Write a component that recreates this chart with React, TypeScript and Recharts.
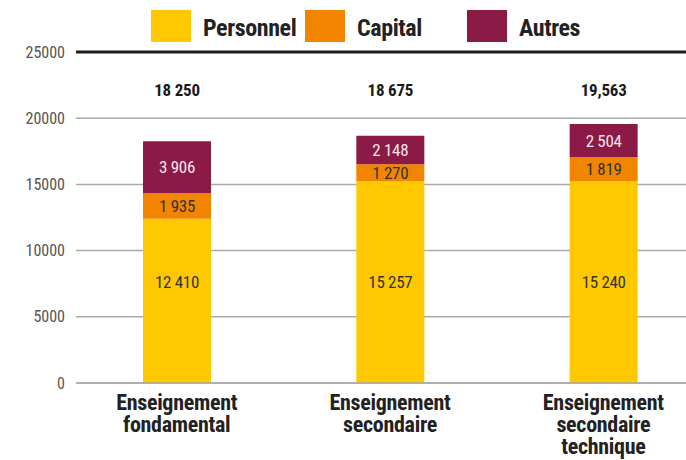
import React from 'react';
import { BarChart, Bar, XAxis, YAxis, CartesianGrid, ReferenceLine, LabelList } from 'recharts';

const categories = ['Enseignement fondamental', 'Enseignement secondaire', 'Enseignement secondaire technique'];
const personnel = [12410, 15257, 15240];
const capital = [1935, 1270, 1819];
const autres = [3906, 2148, 2504];
const totalLabels = ['18 250', '18 675', '19,563'];
const yTicks = [0, 5000, 10000, 15000, 20000, 25000];

const series = [
  { key: 'personnel', name: 'Personnel', color: '#FFC800' },
  { key: 'capital', name: 'Capital', color: '#F18500' },
  { key: 'autres', name: 'Autres', color: '#8B1A46' },
];

const FONT = "'Roboto Condensed', Roboto, sans-serif";

const data = categories.map((name, i) => ({
  name,
  personnel: personnel[i],
  capital: capital[i],
  autres: autres[i],
  total: totalLabels[i],
}));

const fmt = (v: number) => v.toString().replace(/\B(?=(\d{3})+(?!\d))/g, ' ');

const CategoryTick = (props: any) => {
  const { x, y, payload } = props;
  const words = String(payload.value).split(' ');
  return (
    <text x={x} y={y + 19} textAnchor="middle" fill="#222" fontSize={22} fontWeight={700}
      fontFamily={FONT} letterSpacing={-0.3}>
      {words.map((w, i) => (
        <tspan key={i} x={x} dy={i === 0 ? 0 : 22}>{w}</tspan>
      ))}
    </text>
  );
};

const segLabel = (fill: string, fixedFromBottom?: number) => (props: any) => {
  const { x, y, width, height, value } = props;
  const cy = fixedFromBottom != null ? y + height - fixedFromBottom : y + height / 2;
  return (
    <text x={x + width / 2} y={cy} dy={6} textAnchor="middle" fill={fill} fontSize={17}
      fontFamily={FONT} letterSpacing={-0.3}>
      {fmt(value)}
    </text>
  );
};

const totalLabel = (props: any) => {
  const { x, width, index } = props;
  return (
    <text x={x + width / 2} y={96} textAnchor="middle" fill="#1a1a1a" fontSize={17} fontWeight={700}
      fontFamily={FONT} letterSpacing={-0.2}>
      {totalLabels[index]}
    </text>
  );
};

const legendOffsets = [151, 305, 467];

export default function App() {
  return (
    <div style={{ position: 'absolute', left: 0, top: 0, width: 686, height: 460, overflow: 'hidden', background: '#fff' }}>
      {series.map((s, i) => (
        <div key={s.key} style={{ position: 'absolute', left: legendOffsets[i], top: 10, height: 32, display: 'flex', alignItems: 'center' }}>
          <div style={{ width: 40, height: 32, background: s.color }} />
          <span style={{ marginLeft: 12, marginTop: 4, fontFamily: FONT, fontWeight: 700, fontSize: 24, letterSpacing: -0.4, color: '#222' }}>
            {s.name}
          </span>
        </div>
      ))}
      <BarChart width={710} height={460} data={data} margin={{ top: 52, right: 0, bottom: 0, left: 0 }}>
        <CartesianGrid vertical={false} stroke="#aaa" strokeWidth={1.5} />
        <XAxis dataKey="name" interval={0} height={77} tick={<CategoryTick />} tickLine={false}
          axisLine={{ stroke: '#aaa', strokeWidth: 1.5 }} padding={{ left: -6, right: 0 }} />
        <YAxis width={76} domain={[0, 25000]} ticks={yTicks} tickLine={false} axisLine={false} tickSize={0}
          tickMargin={11} tick={{ fill: '#555', fontSize: 16, fontFamily: FONT }} />
        <ReferenceLine y={25000} stroke="#1d1d1d" strokeWidth={3} />
        <Bar dataKey="personnel" stackId="a" fill={series[0].color} barSize={68} isAnimationActive={false}>
          <LabelList dataKey="personnel" content={segLabel('#333', 101)} />
        </Bar>
        <Bar dataKey="capital" stackId="a" fill={series[1].color} barSize={68} isAnimationActive={false}>
          <LabelList dataKey="capital" content={segLabel('#333')} />
        </Bar>
        <Bar dataKey="autres" stackId="a" fill={series[2].color} barSize={68} isAnimationActive={false}>
          <LabelList dataKey="autres" content={segLabel('#f3e6ec')} />
          <LabelList dataKey="total" content={totalLabel} />
        </Bar>
      </BarChart>
    </div>
  );
}
